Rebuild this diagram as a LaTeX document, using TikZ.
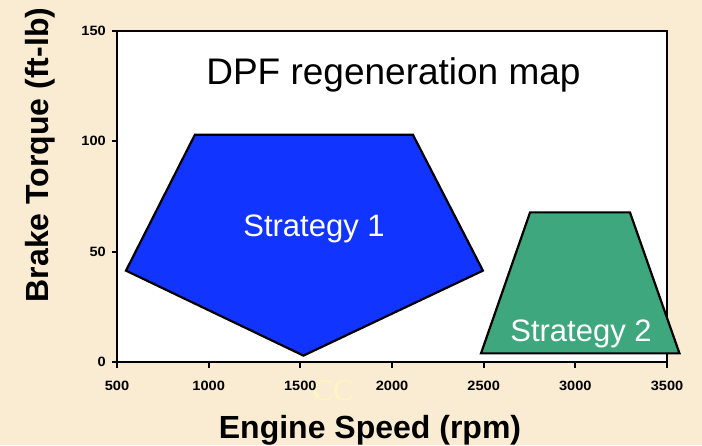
\documentclass[tikz,border=0pt]{standalone}
\usepackage{fontspec}
\setmainfont{Liberation Sans}
\newfontfamily\serifcc{Liberation Serif}
\definecolor{parchment}{RGB}{249,236,210}
\definecolor{regblue}{RGB}{18,52,255}
\definecolor{reggreen}{RGB}{63,167,125}
\definecolor{ccyellow}{RGB}{255,246,190}
\tikzset{
  frameline/.style={line width=2.6pt},
  zoneline/.style={line width=2.2pt, line join=miter},
  ticklabel/.style={font=\fontsize{13.5}{14}\selectfont\bfseries, inner sep=0pt, xscale=1.08},
  axistitle/.style={font=\fontsize{32}{33}\selectfont\bfseries, inner sep=0pt},
  zonelabel/.style={font=\fontsize{31}{32}\selectfont, text=white, inner sep=0pt, anchor=base},
}
\begin{document}
\begin{tikzpicture}[x=1pt,y=1pt]
  % page and parchment background
  \fill[parchment] (0,0) rectangle (702,445);
  \useasboundingbox (0,0) rectangle (702,445);
  \node[font=\serifcc\fontsize{30}{30}\selectfont, text=ccyellow, inner sep=0pt] (cc) at (333,54) {CC};

  % data frame: x = rpm - 500, y = torque (ft-lb)
  \begin{scope}[shift={(117,83)}, x=0.18333pt, y=2.2067pt]
    \fill[white] (0,0) rectangle (3000,150);
    \draw[frameline] (0,150) -- (3000,150) -- (3000,0);
    \draw[frameline] (0,150) -- (0,0) -- (3000,0);
    % ticks
    \foreach \r/\lab in {0/500,500/1000,1000/1500,1500/2000,2000/2500,2500/3000,3000/3500}{
      \draw[line width=2.2pt] (\r,0.5) -- ++(0,-7pt);
      \node[ticklabel] (xt\lab) at ([yshift=-24pt]\r,0) {\lab};
    }
    \foreach \t in {0,50,100,150}{
      \draw[line width=2.2pt] (0,\t) -- ++(-5pt,0);
      \node[ticklabel, anchor=east] (yt\t) at ([xshift=-11pt]0,\t) {\t};
    }
    % regeneration zones
    \draw[zoneline, fill=regblue] (49,41.4) -- (425,103) -- (1614,103) -- (1996,41.4) -- (1017,2.9) -- cycle;
    \draw[zoneline, fill=reggreen] (1985.5,3.9) -- (2253,67.8) -- (2798,67.8) -- (3068,3.9) -- cycle;
  \end{scope}

  % texts
  \node[font=\fontsize{37}{38}\selectfont, inner sep=0pt, anchor=base] (title) at (393.5,360) {DPF regeneration map};
  \node[zonelabel] (s1) at (314,208) {Strategy 1};
  \node[zonelabel] (s2) at (581,103.3) {Strategy 2};
  \node[axistitle, anchor=base] (xlab) at (370,7) {Engine Speed (rpm)};
  \node[axistitle, anchor=base, rotate=90] (ylab) at (48,290) {Brake Torque (ft-lb)};
\end{tikzpicture}
\end{document}
